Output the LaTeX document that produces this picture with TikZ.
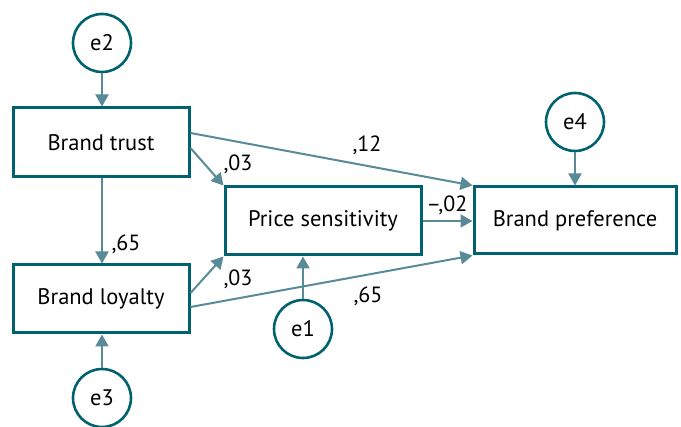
\documentclass[tikz,border=0pt]{standalone}
\usepackage{fontspec}
\setmainfont{PT Sans}
\usetikzlibrary{arrows.meta,calc}
\definecolor{boxteal}{RGB}{0,98,110}
\definecolor{arrowteal}{RGB}{88,138,152}
\tikzset{
  varbox/.style={draw=boxteal, line width=3pt, fill=white, inner sep=0pt,
    font=\fontsize{22.5}{26}\selectfont},
  errc/.style={draw=boxteal, line width=2.6pt, circle, fill=white, inner sep=0pt,
    minimum size=58pt, font=\fontsize{22.5}{26}\selectfont},
  path/.style={draw=arrowteal, line width=2pt,
    -{Triangle[length=12pt,width=13pt]}},
  coef/.style={font=\fontsize{22}{26}\selectfont, inner sep=0pt}
}
\begin{document}
\begin{tikzpicture}[x=1pt,y=-1pt]
\useasboundingbox (0,0) rectangle (681,427);
% latent variables
\node[varbox, minimum width=176pt, minimum height=69pt] (bt) at (101,142.5) {Brand trust};
\node[varbox, minimum width=176pt, minimum height=68pt] (bl) at (101,299) {Brand loyalty};
\node[varbox, minimum width=196pt, minimum height=68pt] (ps) at (323,221) {Price sensitivity};
\node[varbox, minimum width=202pt, minimum height=67pt] (bp) at (575,220.5) {Brand preference};
% error terms
\node[errc] (e2) at (102,43) {e2};
\node[errc] (e3) at (102,398) {e3};
\node[errc] (e1) at (303,329) {e1};
\node[errc] (e4) at (575,122) {e4};
% paths
\draw[path] (e2) -- (e2 |- bt.north);
\draw[path] (e3) -- (e3 |- bl.south);
\draw[path] (e1) -- (e1 |- ps.south);
\draw[path] (e4) -- (e4 |- bp.north);
\draw[path] (bt.south -| e2) -- (bl.north -| e2);
\draw[path] ($(bt.east)+(0,5.5)$) -- (ps.north west);
\draw[path] ($(bt.east)+(0,-9.5)$) -- (bp.north west);
\draw[path] ($(bl.east)+(0,-6)$) -- (ps.south west);
\draw[path] ($(bl.east)+(0,8)$) -- (bp.south west);
\draw[path] (ps.east) -- (ps.east -| bp.west);
% coefficients
\node[coef] (c1) at (126,244) {,65};
\node[coef] (c2) at (238,164) {,03};
\node[coef] (c3) at (367,145) {,12};
\node[coef] (c4) at (447,205) {–,02};
\node[coef] (c5) at (238,279) {,03};
\node[coef] (c6) at (368,296) {,65};
\end{tikzpicture}
\end{document}
